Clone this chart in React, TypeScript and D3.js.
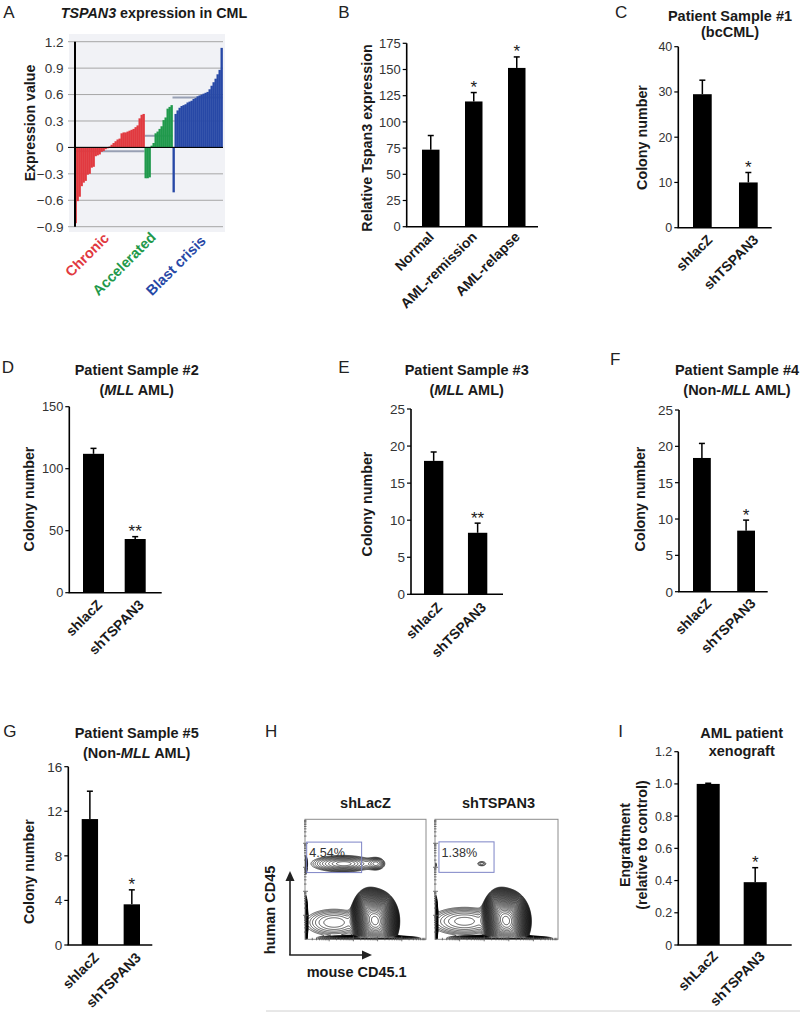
import React from 'react';
import * as d3 from 'd3';

const FONT = "'Liberation Sans', Arial, Helvetica, sans-serif";
const INK = '#1a1a1a';
const TICK_INK = '#333333';

// ---------------- Panel A data ----------------
const chronicValues = [-0.86, -0.61, -0.56, -0.44, -0.4, -0.38, -0.31, -0.3, -0.23, -0.22, -0.1, -0.09, -0.08, -0.05, -0.04, -0.02, -0.01, 0.01, 0.03, 0.05, 0.07, 0.09, 0.1, 0.16, 0.17, 0.17, 0.18, 0.19, 0.2, 0.21, 0.23, 0.25, 0.33, 0.37, 0.38];
const acceleratedValues = [-0.35, -0.35, -0.34, 0.02, 0.05, 0.16, 0.18, 0.21, 0.24, 0.31, 0.34, 0.44, 0.46, 0.48];
const blastCrisisValues = [-0.51, 0.38, 0.42, 0.45, 0.47, 0.48, 0.49, 0.51, 0.52, 0.53, 0.55, 0.56, 0.58, 0.59, 0.6, 0.61, 0.62, 0.63, 0.66, 0.7, 0.74, 0.78, 0.83, 0.88, 1.13];
const aGroupLabels = ['Chronic', 'Accelerated', 'Blast crisis'];
const aGroupColors = ['#e1393f', '#1f994b', '#2748a6'];
const aTicks = [-0.9, -0.6, -0.3, 0, 0.3, 0.6, 0.9, 1.2];

// ---------------- Panel B data ----------------
const bCategories = ['Normal', 'AML-remission', 'AML-relapse'];
const bMeans = [73.5, 119.5, 151.5];
const bErrors = [13.5, 8.5, 10.5];
const bStars = ['', '*', '*'];
const bTicks = [0, 25, 50, 75, 100, 125, 150, 175];

// ---------------- Panels C-G data ----------------
const shCategories = ['shlacZ', 'shTSPAN3'];
const cMeans = [29.5, 10];
const cErrors = [3.1, 2.2];
const cStars = ['', '*'];
const cTicks = [0, 10, 20, 30, 40];

const dMeans = [112, 43.3];
const dErrors = [4.4, 1.9];
const dStars = ['', '**'];
const dTicks = [0, 50, 100, 150];

const eMeans = [18, 8.3];
const eErrors = [1.2, 1.3];
const eStars = ['', '**'];
const eTicks = [0, 5, 10, 15, 20, 25];

const fMeans = [18.4, 8.4];
const fErrors = [2.0, 1.45];
const fStars = ['', '*'];
const fTicks = [0, 5, 10, 15, 20, 25];

const gMeans = [11.3, 3.65];
const gErrors = [2.5, 1.3];
const gStars = ['', '*'];
const gTicks = [0, 4, 8, 12, 16];

// ---------------- Panel I data ----------------
const iCategories = ['shLacZ', 'shTSPAN3'];
const iMeans = [1.0, 0.39];
const iErrors = [0.004, 0.09];
const iStars = ['', '*'];
const iTicks = [0, 0.2, 0.4, 0.6, 0.8, 1.0, 1.2];

// ---------------- Panel H data (flow populations, log decades 0-5) ----------------
const hTitles = ['shLacZ', 'shTSPAN3'];
const hGatePercents = ['4.54%', '1.38%'];
const shLacZPopulations = [
  { x: 1.55, y: 3.15, sx: 0.75, sy: 0.2, w: 0.0045 },
  { x: 1.65, y: 3.15, sx: 0.35, sy: 0.1, w: 0.0015 },
  { x: 2.95, y: 3.15, sx: 0.2, sy: 0.15, w: 0.0032 },
  { x: 0.03, y: 3.1, sx: 0.03, sy: 0.2, w: 0.006 },
  { x: 2.95, y: 0.75, sx: 0.26, sy: 0.36, w: 1.0 },
  { x: 2.65, y: 0.95, sx: 0.22, sy: 0.35, w: 0.35 },
  { x: 1.2, y: 0.7, sx: 0.75, sy: 0.35, w: 0.0035 },
  { x: 2.7, y: 0.04, sx: 0.85, sy: 0.05, w: 0.02 },
  { x: 0.03, y: 0.8, sx: 0.03, sy: 0.4, w: 0.03 },
];
const shTSPAN3Populations = [
  { x: 1.9, y: 3.15, sx: 0.17, sy: 0.09, w: 0.0016 },
  { x: 0.03, y: 3.1, sx: 0.025, sy: 0.1, w: 0.0015 },
  { x: 2.95, y: 0.75, sx: 0.26, sy: 0.36, w: 1.0 },
  { x: 2.65, y: 0.95, sx: 0.22, sy: 0.35, w: 0.35 },
  { x: 1.2, y: 0.75, sx: 0.85, sy: 0.35, w: 0.004 },
  { x: 2.7, y: 0.04, sx: 0.85, sy: 0.05, w: 0.02 },
  { x: 0.03, y: 0.8, sx: 0.03, sy: 0.4, w: 0.03 },
];

type Seg = { t: string; i?: boolean };

function TitleLines({ cx, baselines, lines }: { cx: number; baselines: number[]; lines: Seg[][] }) {
  return (
    <g>
      {lines.map((segs, k) => (
        <text key={k} x={cx} y={baselines[k]} textAnchor="middle" fontFamily={FONT} fontWeight="bold" fontSize={14.5} fill={INK}>
          {segs.map((s, j) => (
            <tspan key={j} fontStyle={s.i ? 'italic' : 'normal'}>{s.t}</tspan>
          ))}
        </text>
      ))}
    </g>
  );
}

function PanelLetter({ x, y, t }: { x: number; y: number; t: string }) {
  return (
    <text x={x} y={y} fontFamily={FONT} fontSize={17} fill="#222">{t}</text>
  );
}

type BarLayout = {
  axisX: number; axisEnd: number; yTop: number; yZero: number; bars: [number, number]; padInner: number;
  yTitle: string[]; yTitleX: number[]; yTitleY: number; labelDx: number; labelDy: number; tickSize: number;
  fmt?: (d: number) => string;
};

function BarPanel({ cats, means, errors, stars, ticks, L }: { cats: string[]; means: number[]; errors: number[]; stars: string[]; ticks: number[]; L: BarLayout }) {
  const y = d3.scaleLinear().domain([0, ticks[ticks.length - 1]]).range([L.yZero, L.yTop]);
  const x = d3.scaleBand<string>().domain(cats).range(L.bars).paddingInner(L.padInner).paddingOuter(0);
  const bw = x.bandwidth();
  const fmt = L.fmt || ((d: number) => String(d));
  return (
    <g fontFamily={FONT}>
      {cats.map((c, k) => {
        const x0 = x(c)!;
        const cx = x0 + bw / 2;
        const top = y(means[k]);
        const et = y(means[k] + errors[k]);
        return (
          <g key={c}>
            <line x1={cx} x2={cx} y1={top} y2={et} stroke="#000" strokeWidth={1.5} />
            <line x1={cx - 3} x2={cx + 3} y1={et} y2={et} stroke="#000" strokeWidth={1.5} />
            <rect x={x0} y={top} width={bw} height={L.yZero - top} fill="#000" />
            {stars[k] && (
              <text x={cx} y={et + 0.5} textAnchor="middle" fontSize={17} fill={INK}>{stars[k]}</text>
            )}
            <text transform={`translate(${cx + L.labelDx},${L.yZero + L.labelDy}) rotate(-45)`} textAnchor="end" fontSize={14} fontWeight="bold" fill={INK}>{c}</text>
          </g>
        );
      })}
      <line x1={L.axisX} x2={L.axisX} y1={L.yTop} y2={L.yZero} stroke="#000" strokeWidth={1.6} />
      <line x1={L.axisX - 0.8} x2={L.axisEnd} y1={L.yZero} y2={L.yZero} stroke="#000" strokeWidth={1.6} />
      {ticks.map((t) => (
        <g key={t}>
          <line x1={L.axisX - 4} x2={L.axisX} y1={y(t)} y2={y(t)} stroke="#000" strokeWidth={1.2} />
          <text x={L.axisX - 6} y={y(t)} dy="0.36em" textAnchor="end" fontSize={L.tickSize} fill={TICK_INK}>{fmt(t)}</text>
        </g>
      ))}
      {L.yTitle.map((s, k) => (
        <text key={s} transform={`translate(${L.yTitleX[k]},${L.yTitleY}) rotate(-90)`} textAnchor="middle" fontSize={14.3} fontWeight="bold" fill={INK}>{s}</text>
      ))}
    </g>
  );
}

function PanelA() {
  const groups = [chronicValues, acceleratedValues, blastCrisisValues];
  const all: { v: number; g: number }[] = [];
  groups.forEach((arr, g) => arr.forEach((v) => all.push({ v, g })));
  const x = d3.scaleBand<number>().domain(d3.range(all.length)).range([74.5, 222.5]).padding(0);
  const y = d3.scaleLinear().domain([-0.9, 1.2]).range([226.7, 41.7]);
  const bw = x.bandwidth();
  const axisX = 75;
  const right = 223;
  let start = 0;
  const groupInfo = groups.map((arr) => {
    const s = start;
    start += arr.length;
    return { x0: x(s)!, x1: x(s + arr.length - 1)! + bw, mean: d3.mean(arr)! };
  });
  const labelDx = [0.5, -1.8, 9.2];
  const labelY = [239, 238.3, 241.7];
  return (
    <g fontFamily={FONT}>
      <rect x={69} y={34} width={156} height={198} fill="#f1f2f6" />
      {aTicks.map((t) => (
        <line key={t} x1={axisX - 7} x2={right} y1={y(t)} y2={y(t)} stroke={t === 0 ? '#000' : '#a6a6a6'} strokeWidth={1} />
      ))}
      {groupInfo.map((g, k) => (
        <line key={k} x1={g.x0} x2={g.x1} y1={y(g.mean)} y2={y(g.mean)} stroke="#98a0b4" strokeWidth={2} />
      ))}
      {all.map((d, k) => (
        <rect key={k} x={x(k)!} width={bw + 0.35} y={Math.min(y(d.v), y(0))} height={Math.abs(y(d.v) - y(0))} fill={aGroupColors[d.g]} />
      ))}
      <line x1={axisX} x2={right} y1={y(0)} y2={y(0)} stroke="#000" strokeWidth={1} />
      <line x1={axisX} x2={axisX} y1={y(1.2)} y2={y(-0.9)} stroke="#000" strokeWidth={2} />
      {aTicks.map((t) => (
        <text key={t} x={63.5} y={y(t)} dy="0.36em" textAnchor="end" fontSize={13.5} fill={TICK_INK}>{t === 0 ? '0' : d3.format('.1f')(t)}</text>
      ))}
      <text transform={`translate(34.5,123) rotate(-90)`} textAnchor="middle" fontSize={14.2} fontWeight="bold" fill={INK}>Expression value</text>
      {groupInfo.map((g, k) => (
        <text key={k} transform={`translate(${(g.x0 + g.x1) / 2 + labelDx[k]},${labelY[k]}) rotate(-45)`} textAnchor="end" fontSize={14.5} fontWeight="bold" fill={aGroupColors[k]}>{aGroupLabels[k]}</text>
      ))}
      <text x={154} y={18.3} textAnchor="middle" fontWeight="bold" fontSize={14.3} fill={INK}>
        <tspan fontStyle="italic">TSPAN3</tspan>
        <tspan> expression in CML</tspan>
      </text>
    </g>
  );
}

type Pop = { x: number; y: number; sx: number; sy: number; w: number };

function FlowBox({ id, x0, y0, w, h, pops, gate, pct, title }: { id: string; x0: number; y0: number; w: number; h: number; pops: Pop[]; gate: [number, number, number, number]; pct: string; title: string }) {
  const xs = d3.scaleLinear().domain([0, 5]).range([x0, x0 + w]);
  const ys = d3.scaleLinear().domain([0, 5]).range([y0 + h, y0]);
  const n = Math.round(w * 2);
  const m = Math.round(h * 2);
  const grid: number[] = new Array(n * m);
  for (let j = 0; j < m; j++) {
    for (let i = 0; i < n; i++) {
      const dx = xs.invert(x0 + ((i + 0.5) * w) / n);
      const dy = ys.invert(y0 + ((j + 0.5) * h) / m);
      let v = 0;
      for (const p of pops) {
        const a = (dx - p.x) / p.sx;
        const b = (dy - p.y) / p.sy;
        v += p.w * Math.exp(-0.5 * (a * a + b * b));
      }
      grid[j * n + i] = v;
    }
  }
  const levels = d3.range(40).map((k) => 0.001 * Math.pow(1.2, k));
  const contours = d3.contours().size([n, m]).thresholds(levels)(grid);
  const proj = d3.geoTransform({
    point(px: number, py: number) {
      // @ts-ignore
      this.stream.point(x0 + (px * w) / n, y0 + (py * h) / m);
    },
  });
  const path = d3.geoPath(proj);
  const decades = [0, 1, 2, 3, 4];
  const minor = [2, 3, 4, 5, 6, 7, 8, 9];
  const tickVals: { v: number; major: boolean }[] = [];
  decades.forEach((d) => {
    if (d > 0) tickVals.push({ v: d, major: true });
    minor.forEach((k) => tickVals.push({ v: d + Math.log10(k), major: false }));
  });
  return (
    <g fontFamily={FONT}>
      <defs>
        <clipPath id={id}>
          <rect x={x0} y={y0} width={w} height={h} />
        </clipPath>
      </defs>
      <g clipPath={`url(#${id})`}>
        {contours.map((c, k) => (
          <path key={k} d={path(c as any) || ''} fill="none" stroke="#000" strokeWidth={0.65} />
        ))}
      </g>
      <rect x={x0} y={y0} width={w} height={h} fill="none" stroke="#8c8c8c" strokeWidth={1} />
      {tickVals.map((t, k) => (
        <g key={k}>
          <line x1={x0 - (t.major ? 2 : 1)} x2={x0 + (t.major ? 3 : 1.5)} y1={ys(t.v)} y2={ys(t.v)} stroke="#555" strokeWidth={0.8} />
          <line y1={y0 + h - (t.major ? 3 : 1.5)} y2={y0 + h + (t.major ? 2 : 1)} x1={xs(t.v)} x2={xs(t.v)} stroke="#555" strokeWidth={0.8} />
        </g>
      ))}
      <rect x={xs(gate[0])} y={ys(gate[3])} width={xs(gate[1]) - xs(gate[0])} height={ys(gate[2]) - ys(gate[3])} fill="none" stroke="#7d84c6" strokeWidth={1} />
      <text x={xs(gate[0]) + 2.5} y={ys(gate[3]) + 14.7} fontSize={12.6} fill={TICK_INK}>{pct}</text>
      <text x={x0 + w / 2 + (title === 'shLacZ' ? 0 : 2)} y={808.3} textAnchor="middle" fontSize={14.5} fontWeight="bold" fill={INK}>{title}</text>
    </g>
  );
}

function PanelH() {
  return (
    <g fontFamily={FONT}>
      <FlowBox id="clipH1" x0={305} y0={819.3} w={121} h={120} pops={shLacZPopulations} gate={[0.07, 2.34, 2.78, 4.05]} pct={hGatePercents[0]} title={hTitles[0]} />
      <FlowBox id="clipH2" x0={435} y0={819.3} w={123} h={120} pops={shTSPAN3Populations} gate={[0.16, 2.4, 2.79, 4.06]} pct={hGatePercents[1]} title={hTitles[1]} />
      <line x1={290} x2={290} y1={955} y2={879} stroke="#222" strokeWidth={1.6} />
      <path d="M290,871 L285.5,881 L294.5,881 Z" fill="#222" />
      <line x1={289.2} x2={364} y1={955} y2={955} stroke="#222" strokeWidth={1.6} />
      <path d="M372,955 L362,950.5 L362,959.5 Z" fill="#222" />
      <text transform="translate(275,910) rotate(-90)" textAnchor="middle" fontSize={14.5} fontWeight="bold" fill={INK}>human CD45</text>
      <text x={356.7} y={977} textAnchor="middle" fontSize={14.5} fontWeight="bold" fill={INK}>mouse CD45.1</text>
    </g>
  );
}

const fmtI = (d: number) => (d === 0 ? '0' : d3.format('.1f')(d));

export default function App() {
  const mll: Seg[] = [{ t: '(' }, { t: 'MLL', i: true }, { t: ' AML)' }];
  const nonMll: Seg[] = [{ t: '(Non-' }, { t: 'MLL', i: true }, { t: ' AML)' }];
  return (
    <svg width={800} height={1012} style={{ position: 'absolute', left: 0, top: 0, background: '#fff' }}>
      <rect x={0} y={0} width={800} height={1012} fill="#fff" />
      {/* A */}
      <PanelLetter x={3.3} y={18.3} t="A" />
      <PanelA />
      {/* B */}
      <PanelLetter x={338.3} y={18.3} t="B" />
      <BarPanel cats={bCategories} means={bMeans} errors={bErrors} stars={bStars} ticks={bTicks}
        L={{ axisX: 406.7, axisEnd: 538, yTop: 43.3, yZero: 226.7, bars: [422, 525.5], padInner: 0.593, yTitle: ['Relative Tspan3 expression'], yTitleX: [371.5], yTitleY: 138, labelDx: 4, labelDy: 11, tickSize: 13 }} />
      {/* C */}
      <PanelLetter x={615} y={18.3} t="C" />
      <TitleLines cx={730} baselines={[20.5, 36.5]} lines={[[{ t: 'Patient Sample #1' }], [{ t: '(bcCML)' }]]} />
      <BarPanel cats={shCategories} means={cMeans} errors={cErrors} stars={cStars} ticks={cTicks}
        L={{ axisX: 678.3, axisEnd: 771.7, yTop: 46.7, yZero: 227.7, bars: [693, 757.7], padInner: 0.593, yTitle: ['Colony number'], yTitleX: [646.5], yTitleY: 137.5, labelDx: 11, labelDy: 13, tickSize: 12.5 }} />
      {/* D */}
      <PanelLetter x={1.7} y={373.3} t="D" />
      <TitleLines cx={136.7} baselines={[375, 395]} lines={[[{ t: 'Patient Sample #2' }], mll]} />
      <BarPanel cats={shCategories} means={dMeans} errors={dErrors} stars={dStars} ticks={dTicks}
        L={{ axisX: 69.3, axisEnd: 161.7, yTop: 406.7, yZero: 592.7, bars: [83, 145.7], padInner: 0.496, yTitle: ['Colony number'], yTitleX: [33.5], yTitleY: 499, labelDx: 9.5, labelDy: 13, tickSize: 12.8 }} />
      {/* E */}
      <PanelLetter x={338.3} y={373.3} t="E" />
      <TitleLines cx={466.7} baselines={[375, 395]} lines={[[{ t: 'Patient Sample #3' }], mll]} />
      <BarPanel cats={shCategories} means={eMeans} errors={eErrors} stars={eStars} ticks={eTicks}
        L={{ axisX: 411, axisEnd: 503, yTop: 409, yZero: 594.3, bars: [424, 487.3], padInner: 0.56, yTitle: ['Colony number'], yTitleX: [371.5], yTitleY: 504, labelDx: 9.5, labelDy: 14, tickSize: 13.5 }} />
      {/* F */}
      <PanelLetter x={610} y={365} t="F" />
      <TitleLines cx={737} baselines={[375, 395]} lines={[[{ t: 'Patient Sample #4' }], nonMll]} />
      <BarPanel cats={shCategories} means={fMeans} errors={fErrors} stars={fStars} ticks={fTicks}
        L={{ axisX: 679, axisEnd: 767.7, yTop: 410, yZero: 591.7, bars: [693, 755], padInner: 0.597, yTitle: ['Colony number'], yTitleX: [645], yTitleY: 499, labelDx: 10.5, labelDy: 12.5, tickSize: 13.5 }} />
      {/* G */}
      <PanelLetter x={3.3} y={736.7} t="G" />
      <TitleLines cx={136.7} baselines={[738.3, 758.3]} lines={[[{ t: 'Patient Sample #5' }], nonMll]} />
      <BarPanel cats={shCategories} means={gMeans} errors={gErrors} stars={gStars} ticks={gTicks}
        L={{ axisX: 68.3, axisEnd: 152.3, yTop: 766.7, yZero: 945, bars: [81.7, 140], padInner: 0.61, yTitle: ['Colony number'], yTitleX: [33.5], yTitleY: 871.7, labelDx: 10, labelDy: 13.5, tickSize: 13.5 }} />
      {/* H */}
      <PanelLetter x={265} y={736.7} t="H" />
      <PanelH />
      {/* I */}
      <PanelLetter x={618.3} y={736.7} t="I" />
      <TitleLines cx={741.7} baselines={[738.3, 756]} lines={[[{ t: 'AML patient' }], [{ t: 'xenograft' }]]} />
      <BarPanel cats={iCategories} means={iMeans} errors={iErrors} stars={iStars} ticks={iTicks}
        L={{ axisX: 678.3, axisEnd: 791.7, yTop: 751.7, yZero: 945, bars: [696.7, 766.7], padInner: 0.51, yTitle: ['Engraftment', '(relative to control)'], yTitleX: [630, 646.5], yTitleY: 845, labelDx: 10.5, labelDy: 12, tickSize: 12.5, fmt: fmtI }} />
      <line x1={266} x2={800} y1={1011} y2={1011} stroke="#d0d0d0" strokeWidth={1} />
    </svg>
  );
}
